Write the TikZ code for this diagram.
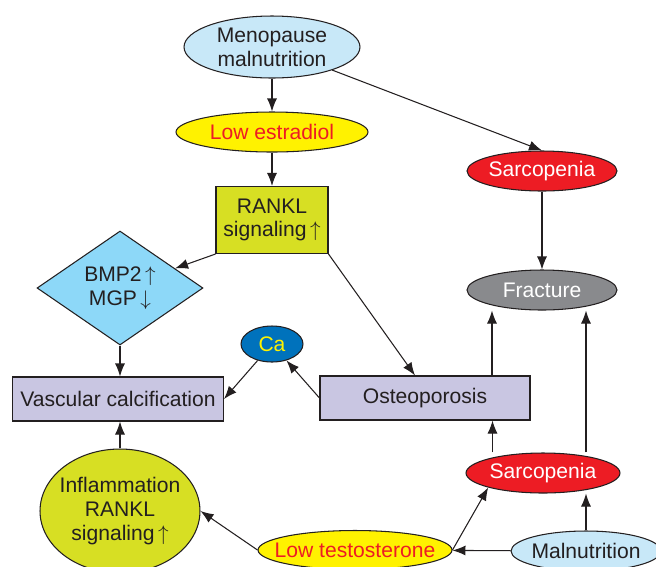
\documentclass[tikz,border=0pt]{standalone}
\usepackage{fontspec}
\setmainfont{Liberation Sans}
\usetikzlibrary{shapes.geometric,arrows.meta}
\definecolor{bleuclair}{RGB}{200,232,248}
\definecolor{jaune}{RGB}{255,242,0}
\definecolor{rouge}{RGB}{237,28,36}
\definecolor{olive}{RGB}{215,223,35}
\definecolor{bleuciel}{RGB}{141,216,248}
\definecolor{bleuca}{RGB}{0,114,188}
\definecolor{lavande}{RGB}{201,198,226}
\definecolor{gris}{RGB}{137,138,141}
\definecolor{texte}{RGB}{35,31,32}
\tikzset{
  bulle/.style={ellipse, draw=texte, line width=0.6pt, inner sep=0pt},
  boite/.style={rectangle, draw=texte, line width=0.6pt, inner sep=0pt, align=center},
  every label/.style={align=center, inner sep=0pt},
  fleche/.style={-{Latex[length=2.6mm,width=2mm]}, line width=0.6pt, draw=texte}
}
\begin{document}
\begin{tikzpicture}[x=0.02cm, y=-0.02cm, font=\fontsize{12}{13.5}\selectfont, text=texte]
	\useasboundingbox (0,0) rectangle (656,566);
	\clip (0,0) rectangle (656,566);
	% les ellipses du haut
	\node[bulle, fill=bleuclair, minimum width=3.52cm, minimum height=1.24cm, label=center:Menopause\\malnutrition] (meno) at (272,47) {};
	\node[bulle, fill=jaune, minimum width=3.84cm, minimum height=0.8cm, label={[text=rouge]center:Low estradiol}] (estra) at (272,132) {};
	\node[boite, fill=olive, minimum width=2.24cm, minimum height=1.34cm] (rankl) at (272,220) {RANKL\\signaling\,$\uparrow$};
	\node[diamond, draw=texte, line width=0.6pt, inner sep=0pt, align=center, fill=bleuciel, minimum width=3.32cm, minimum height=1.92cm] (bmp) at (120,288) {BMP2\,$\uparrow$\\MGP\,$\downarrow$};
	\node[bulle, fill=rouge, minimum width=3cm, minimum height=0.8cm, label={[text=white]center:Sarcopenia}] (sarch) at (542,171) {};
	\node[bulle, fill=gris, minimum width=3cm, minimum height=0.8cm, label={[text=white]center:Fracture}] (fract) at (542,290) {};
	% le milieu
	\node[bulle, fill=bleuca, minimum width=1.24cm, minimum height=0.72cm, label={[text=jaune]center:Ca}] (ca) at (272,344) {};
	\node[boite, fill=lavande, minimum width=4.22cm, minimum height=0.88cm] (vasc) at (118,399) {Vascular calcification};
	\node[boite, fill=lavande, minimum width=4.2cm, minimum height=0.88cm] (osteo) at (425,398) {Osteoporosis};
	% les ellipses du bas
	\node[bulle, fill=olive, minimum width=3.2cm, minimum height=2.48cm, label=center:Inflammation\\RANKL\\signaling\,$\uparrow$] (infl) at (120,511) {};
	\node[bulle, fill=rouge, minimum width=3.08cm, minimum height=0.8cm, label={[text=white]center:Sarcopenia}] (sarcb) at (543,473) {};
	\node[bulle, fill=jaune, minimum width=3.88cm, minimum height=0.78cm, label={[text=rouge]center:Low testosterone}] (lowt) at (355,550) {};
	\node[bulle, fill=bleuclair, minimum width=3cm, minimum height=0.8cm, label=center:Malnutrition] (maln) at (586,551) {};
	% les fleches
	\draw[fleche] (meno) -- (estra);
	\draw[fleche] (meno) -- (sarch.north);
	\draw[fleche] (estra) -- (rankl);
	\draw[fleche] (rankl.south west) -- (bmp);
	\draw[fleche] (rankl.south east) -- ([xshift=-0.2cm]osteo.north);
	\draw[fleche] (bmp.south) -- (bmp.south |- vasc.north);
	\draw[fleche] (ca) -- (vasc.east);
	\draw[fleche] (osteo.west) -- (ca);
	\draw[fleche] (sarch) -- (fract);
	\draw[fleche] ([xshift=1.34cm]osteo.north) -- ([xshift=1.34cm]osteo.north |- fract.south);
	\draw[fleche] (sarcb.north -| osteo.north east) ++(-0.76cm,0) coordinate (s1) -- (s1 |- osteo.south);
	\draw[fleche] (sarcb.north -| maln.north) -- (maln.north |- fract.south);
	\draw[fleche] (maln.north) -- (maln.north |- sarcb.south);
	\draw[fleche] (maln) -- (lowt);
	\draw[fleche] (lowt.east) -- (sarcb.south west);
	\draw[fleche] (lowt.west) -- (infl.east);
	\draw[fleche] (infl) -- (infl |- vasc.south);
\end{tikzpicture}
\end{document}
